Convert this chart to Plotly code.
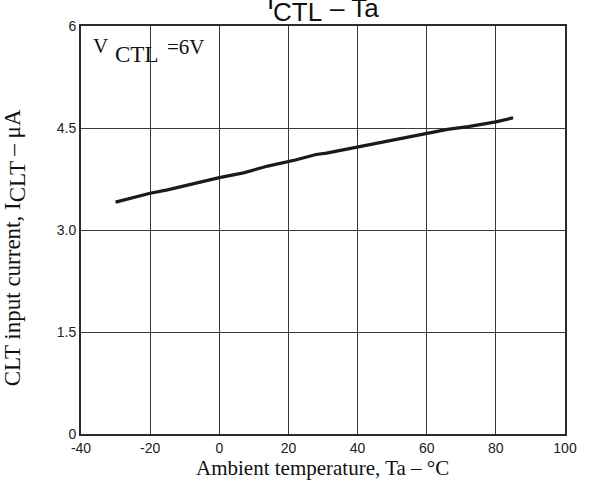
import plotly.graph_objects as go

# Ambient temperature (°C) and CTL input current (µA)
temperature = [-30, -20, -15, -10, 0, 7, 14, 22, 28, 31, 40, 50, 60, 66, 72, 80, 85]
current_ua = [3.41, 3.54, 3.59, 3.65, 3.77, 3.84, 3.94, 4.03, 4.11, 4.13, 4.22, 4.32, 4.42, 4.48, 4.52, 4.59, 4.65]

x_ticks = [-40, -20, 0, 20, 40, 60, 80, 100]
x_tick_text = ["-40", "-20", "0", "20", "40", "60", "80", "100"]
y_ticks = [0, 1.5, 3.0, 4.5, 6]
y_tick_text = ["0", "1.5", "3.0", "4.5", "6"]

serif = "Liberation Serif"
sans = "Liberation Sans"

W, H = 589, 490
M_L, M_R, M_T, M_B = 81, 18, 26, 56
PW, PH = W - M_L - M_R, H - M_T - M_B


def paper_x(px):
    return (px - M_L) / PW


def paper_y(py):
    return (H - M_B - py) / PH


def baseline_text(text, left_px, baseline_px, size, family, descent):
    """Place a text piece by its left edge and baseline, in pixels."""
    return dict(
        text=text, xref="paper", yref="paper",
        x=paper_x(left_px), y=paper_y(baseline_px + descent * size),
        xanchor="left", yanchor="bottom", showarrow=False,
        borderpad=0, borderwidth=0,
        font=dict(family=family, size=size, color="#111"),
    )


fig = go.Figure()
fig.add_trace(go.Scatter(
    x=temperature, y=current_ua, mode="lines",
    line=dict(color="#1a1a1a", width=3.2),
    showlegend=False, hoverinfo="skip",
))

axis_common = dict(
    showgrid=True, gridcolor="#3a3a3a", gridwidth=1,
    showline=True, linecolor="#2a2a2a", linewidth=2, mirror=True,
    zeroline=False, ticks="",
    tickfont=dict(family=sans, size=14, color="#222"),
)

fig.update_xaxes(range=[-40, 100], tickvals=x_ticks, ticktext=x_tick_text, **axis_common)
fig.update_yaxes(range=[0, 6], tickvals=y_ticks, ticktext=y_tick_text, **axis_common)

annotations = [
    # title: I, CTL, – Ta
    baseline_text("I", 269, 9, 26, sans, 0.212),
    baseline_text("CTL", 275, 21, 26, sans, 0.212),
    baseline_text("– Ta", 333, 17, 26, sans, 0.212),
    # condition label
    baseline_text("V", 93, 53, 21, serif, 0.216),
    baseline_text("CTL", 115, 62, 23, serif, 0.216),
    baseline_text("=6V", 168, 54, 21, serif, 0.216),
    # axis titles
    dict(text="Ambient temperature, Ta – °C", xref="paper", yref="paper",
         x=paper_x(325), y=paper_y(468), xanchor="center", yanchor="middle",
         showarrow=False, font=dict(family=serif, size=21, color="#111")),
    dict(text="CLT input current, I<sub><span style='font-size:23px'>CLT</span></sub> – μA",
         xref="paper", yref="paper", x=paper_x(14.5), y=paper_y(248),
         textangle=-90, xanchor="center", yanchor="middle", showarrow=False,
         font=dict(family=serif, size=23, color="#111")),
]

fig.update_layout(
    width=W, height=H,
    margin=dict(l=M_L, r=M_R, t=M_T, b=M_B),
    plot_bgcolor="white", paper_bgcolor="white",
    annotations=annotations,
)

fig.write_html("out.html")
